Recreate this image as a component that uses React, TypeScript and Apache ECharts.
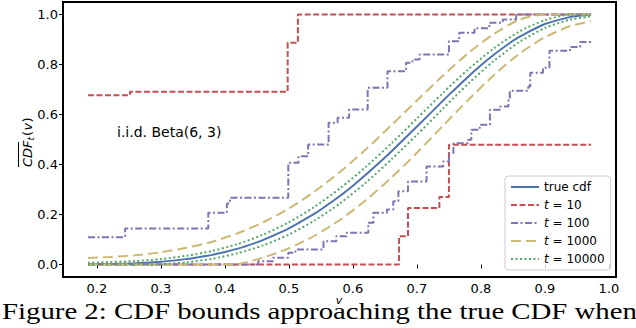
import React, { useEffect, useRef } from "react";
import * as echarts from "echarts";

// ---- data ----
const xTicks = [0.2, 0.3, 0.4, 0.5, 0.6, 0.7, 0.8, 0.9, 1.0];
const yTicks = [0.0, 0.2, 0.4, 0.6, 0.8, 1.0];

const trueX = [0.186, 0.2, 0.22, 0.25, 0.26, 0.3, 0.34, 0.35, 0.38, 0.4, 0.42, 0.45, 0.46, 0.5, 0.54, 0.55, 0.58, 0.6, 0.62, 0.65, 0.66, 0.7, 0.74, 0.75, 0.78, 0.8, 0.82, 0.85, 0.86, 0.9, 0.94, 0.95, 0.972];
const trueY = [0.0008, 0.0012, 0.0021, 0.0042, 0.0052, 0.0113, 0.0218, 0.0253, 0.0385, 0.0498, 0.0634, 0.0885, 0.0982, 0.1445, 0.2034, 0.2201, 0.275, 0.3154, 0.3586, 0.4278, 0.4519, 0.5518, 0.6535, 0.6786, 0.7514, 0.7969, 0.8392, 0.8948, 0.9109, 0.9619, 0.9904, 0.9942, 0.9989];

// t = 10 (step functions: value y starts at x)
const t10Upper = [[0.186, 0.677], [0.2516, 0.691], [0.498, 0.887], [0.514, 1.0], [0.972, 1.0]];
const t10Lower = [[0.186, 0.0], [0.672, 0.113], [0.686, 0.226], [0.735, 0.27], [0.75, 0.479], [0.972, 0.479]];

// t = 100
const t100Upper = [[0.186, 0.109], [0.244, 0.144], [0.374, 0.207], [0.403, 0.244], [0.408, 0.267], [0.499, 0.407], [0.515, 0.433], [0.53, 0.48], [0.562, 0.567], [0.576, 0.587], [0.594, 0.62], [0.623, 0.707], [0.654, 0.773], [0.683, 0.807], [0.693, 0.82], [0.704, 0.84], [0.75, 0.893], [0.766, 0.927], [0.79, 0.945], [0.813, 0.967], [0.834, 0.98], [0.855, 1.0], [0.972, 1.0]];
const t100Lower = [[0.186, 0.0], [0.452, 0.013], [0.475, 0.027], [0.499, 0.047], [0.51, 0.06], [0.554, 0.093], [0.574, 0.113], [0.59, 0.127], [0.624, 0.167], [0.632, 0.207], [0.653, 0.22], [0.663, 0.253], [0.671, 0.293], [0.686, 0.332], [0.715, 0.392], [0.741, 0.412], [0.75, 0.445], [0.757, 0.485], [0.78, 0.499], [0.785, 0.539], [0.798, 0.559], [0.814, 0.619], [0.83, 0.632], [0.843, 0.665], [0.845, 0.695], [0.874, 0.712], [0.877, 0.767], [0.897, 0.787], [0.907, 0.855], [0.939, 0.87], [0.955, 0.89], [0.972, 0.895]];

// t = 1000 and t = 10000 bands
const bandX = [0.186, 0.22, 0.26, 0.3, 0.34, 0.38, 0.42, 0.46, 0.5, 0.54, 0.58, 0.62, 0.66, 0.7, 0.74, 0.78, 0.82, 0.86, 0.9, 0.94, 0.972];
const t1000Upper = [0.026, 0.03, 0.037, 0.049, 0.067, 0.091, 0.125, 0.169, 0.224, 0.292, 0.371, 0.46, 0.557, 0.656, 0.754, 0.845, 0.922, 0.979, 1.0, 1.0, 1.0];
const t1000Lower = [0.0, 0.0, 0.0, 0.0, 0.0, 0.0, 0.002, 0.028, 0.065, 0.115, 0.179, 0.257, 0.347, 0.447, 0.553, 0.658, 0.757, 0.843, 0.909, 0.954, 0.973];
const t10000Upper = [0.007, 0.01, 0.014, 0.022, 0.035, 0.054, 0.082, 0.12, 0.169, 0.231, 0.305, 0.39, 0.484, 0.584, 0.685, 0.78, 0.864, 0.932, 0.977, 1.0, 1.0];
const t10000Lower = [0.0, 0.0, 0.0, 0.001, 0.009, 0.023, 0.045, 0.077, 0.12, 0.176, 0.245, 0.327, 0.42, 0.519, 0.622, 0.723, 0.814, 0.89, 0.946, 0.98, 0.992];

const legendNames = ["true cdf", "t=10", "t=100", "t=1000", "t=10000"];

const C_BLUE = "#4C72B0";
const C_RED = "#C44E52";
const C_PURPLE = "#8172B2";
const C_YELLOW = "#CCB974";
const C_GREEN = "#55A868";

const FONT = "DejaVu Sans";

export default function App() {
  const ref = useRef<HTMLDivElement>(null);

  useEffect(() => {
    if (!ref.current) return;
    const chart = echarts.init(ref.current, undefined, { renderer: "svg" });

    const pair = (xs: number[], ys: number[]) => xs.map((x, i) => [x, ys[i]]);

    const lineSeries = (name: string, data: any, color: string, type: any, width: number, step?: any, smooth?: boolean) => ({
      name,
      type: "line",
      data,
      symbol: "none",
      step: step || false,
      smooth: smooth ? 0.25 : false,
      color,
      itemStyle: { color },
      lineStyle: { color, width, type, cap: "butt" },
      emphasis: { disabled: true },
      silent: true,
    });

    const dashRed = [6, 2.5];
    const dashDot = [7, 2.5, 2, 2.5];
    const dashLong = [10, 5];
    const dotted = [2, 2.5];

    const option: any = {
      animation: false,
      textStyle: { fontFamily: FONT },
      grid: {
        left: 63,
        right: 20,
        top: 2,
        bottom: 51,
        show: true,
        borderColor: "#000",
        borderWidth: 2,
        backgroundColor: "transparent",
      },
      xAxis: {
        type: "value",
        min: 0.147,
        max: 1.011,
        splitLine: { show: false },
        axisLine: { show: false },
        axisTick: { show: true, inside: false, length: 4, customValues: xTicks, lineStyle: { color: "#000", width: 1 } },
        axisLabel: {
          customValues: xTicks,
          formatter: (v: number) => v.toFixed(1),
          color: "#000",
          fontSize: 13,
          fontFamily: FONT,
          margin: 5,
        },
      },
      yAxis: {
        type: "value",
        min: -0.05,
        max: 1.05,
        splitLine: { show: false },
        axisLine: { show: false },
        axisTick: { show: true, inside: false, length: 4, customValues: yTicks, lineStyle: { color: "#000", width: 1 } },
        axisLabel: {
          customValues: yTicks,
          formatter: (v: number) => v.toFixed(1),
          color: "#000",
          fontSize: 13,
          fontFamily: FONT,
          margin: 5,
        },
      },
      legend: {
        data: legendNames,
        orient: "vertical",
        left: 505,
        top: 176,
        padding: [5, 6, 5, 5],
        itemWidth: 28,
        itemHeight: 12,
        itemGap: 6,
        backgroundColor: "rgba(255,255,255,0.8)",
        borderColor: "#cccccc",
        borderWidth: 1,
        borderRadius: 3,
        selectedMode: false,
        itemStyle: { opacity: 0, color: "rgba(0,0,0,0)", borderColor: "rgba(0,0,0,0)", borderWidth: 0 },
        formatter: (n: string) => (n === "true cdf" ? n : `{i|t} = ${n.slice(2)}`),
        textStyle: {
          fontSize: 12,
          color: "#000",
          fontFamily: FONT,
          rich: { i: { fontStyle: "italic", fontSize: 12, fontFamily: FONT, color: "#000" } },
        },
      },
      series: [
        lineSeries("true cdf", pair(trueX, trueY), C_BLUE, "solid", 2, false, true),
        lineSeries("t=10", t10Upper, C_RED, dashRed, 2, "end"),
        lineSeries("t=10", t10Lower, C_RED, dashRed, 2, "end"),
        lineSeries("t=100", t100Upper, C_PURPLE, dashDot, 2, "end"),
        lineSeries("t=100", t100Lower, C_PURPLE, dashDot, 2, "end"),
        lineSeries("t=1000", pair(bandX, t1000Upper), C_YELLOW, dashLong, 2, false, true),
        lineSeries("t=1000", pair(bandX, t1000Lower), C_YELLOW, dashLong, 2, false, true),
        lineSeries("t=10000", pair(bandX, t10000Upper), C_GREEN, dotted, 2, false, true),
        lineSeries("t=10000", pair(bandX, t10000Lower), C_GREEN, dotted, 2, false, true),
      ],
      graphic: [
        {
          type: "text",
          left: 117,
          top: 125,
          style: { text: "i.i.d. Beta(6, 3)", font: `14px "${FONT}"`, fill: "#000" },
        },
        {
          type: "group",
          x: 27,
          y: 140,
          rotation: Math.PI / 2,
          children: [
            { type: "text", x: -27, y: 0, style: { text: "CDF", font: `italic 13px "${FONT}"`, fill: "#000", verticalAlign: "middle", align: "left" } },
            { type: "text", x: -0.5, y: 3.5, style: { text: "t", font: `italic 9px "${FONT}"`, fill: "#000", verticalAlign: "middle", align: "left" } },
            { type: "text", x: 4, y: 0, style: { text: "(", font: `13px "${FONT}"`, fill: "#000", verticalAlign: "middle", align: "left" } },
            { type: "text", x: 9.5, y: 0, style: { text: "v", font: `italic 13px "${FONT}"`, fill: "#000", verticalAlign: "middle", align: "left" } },
            { type: "text", x: 17.5, y: 0, style: { text: ")", font: `13px "${FONT}"`, fill: "#000", verticalAlign: "middle", align: "left" } },
            { type: "line", shape: { x1: -27, y1: -8.5, x2: -2, y2: -8.5 }, style: { stroke: "#000", lineWidth: 1 } },
          ],
        },
        {
          type: "text",
          x: 339,
          y: 300,
          style: { text: "v", font: `italic 11px "${FONT}"`, fill: "#000", align: "center", verticalAlign: "middle" },
        },
        {
          type: "text",
          x: 2,
          y: 311,
          scaleX: 1.2,
          scaleY: 1,
          style: {
            text: "Figure 2: CDF bounds approaching the true CDF when",
            font: '24px "Liberation Serif"',
            fill: "#000",
            align: "left",
            verticalAlign: "middle",
          },
        },
      ],
    };

    chart.setOption(option);
    return () => chart.dispose();
  }, []);

  return (
    <div
      ref={ref}
      style={{ position: "fixed", left: 0, top: 0, width: 636, height: 328, background: "#fff" }}
    />
  );
}
